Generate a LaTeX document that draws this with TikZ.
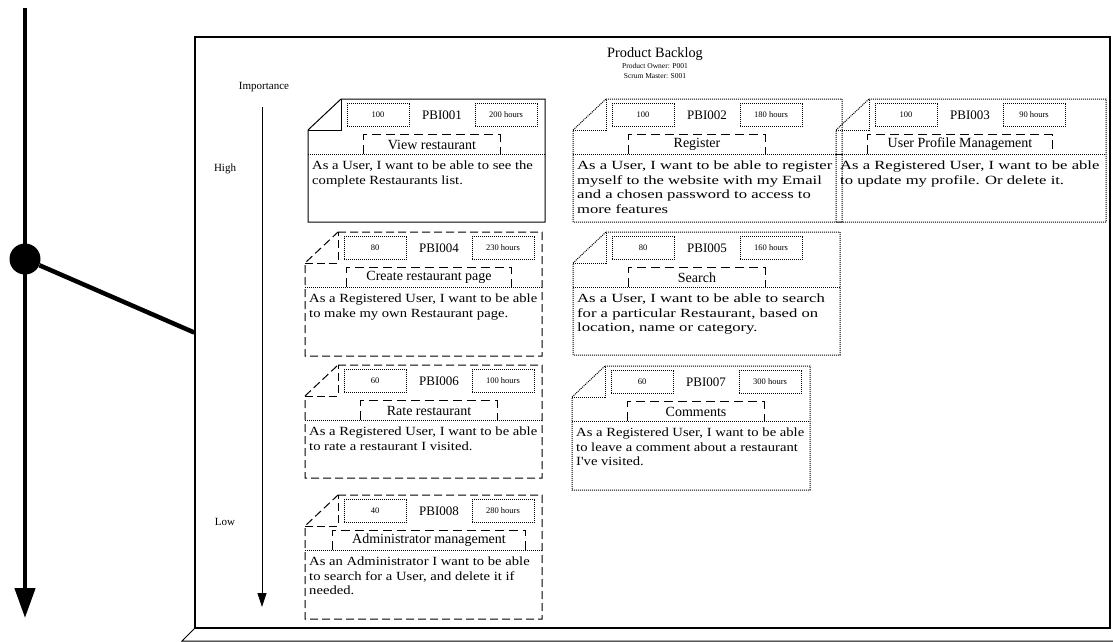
\documentclass[tikz,border=0pt]{standalone}
\usepackage{fontspec}
\setmainfont{Liberation Serif}
\newfontfamily\narrowbody[FakeStretch=1.17]{Liberation Serif}
\newfontfamily\widebody[FakeStretch=1.33]{Liberation Serif}
\usetikzlibrary{
  positioning,
  arrows.meta,
  calc
}

% one backlog item: id, left, top, right, bottom, outline, priority, hours, title
\newcommand{\backlogcard}[9]{%
  \draw[cardline, #6] ({#2+33},#3) -- (#4,#3) -- (#4,#5) -- (#2,#5)
    -- (#2,{#3+31}) -- cycle;
  \draw[cardline, #6] (#2,{#3+31}) -- ({#2+33},{#3+31}) -- ({#2+33},#3);
  \draw[cardline, dottedcard] (#2,{#3+55}) -- (#4,{#3+55});
  \node[numbox] (pbi#1-prio) at ({#2+70},{#3+16}) {#7};
  \node[idlabel] (pbi#1-id) at ({#2+134},{#3+16}) {PBI#1};
  \node[numbox] (pbi#1-hours) at ({#2+198},{#3+16}) {#8};
  \node[titlebox] (pbi#1-title) at ({#2+124},{#3+45.5}) {#9};
  \draw[titleline] (pbi#1-title.south west) -- (pbi#1-title.north west)
    -- (pbi#1-title.north east) -- (pbi#1-title.south east);
  \coordinate (pbi#1-body) at ({#2+4},{#3+62});
}

\begin{document}
\begin{tikzpicture}[
  x=1pt, y=-1pt,
  >=Stealth,
  cardline/.style={line width=1pt},
  solidcard/.style={},
  dottedcard/.style={dash pattern=on 1pt off 1pt},
  dashedcard/.style={dash pattern=on 8pt off 4pt},
  numbox/.style={
    draw, dottedcard, line width=1pt, minimum width=62pt,
    minimum height=23pt, inner sep=0pt, font=\fontsize{8.5}{10}\selectfont
  },
  idlabel/.style={inner sep=0pt, font=\fontsize{13}{15}\selectfont},
  titlebox/.style={
    minimum width=136pt, minimum height=19pt, inner xsep=20pt,
    inner ysep=0pt, font=\fontsize{14}{16}\selectfont
  },
  titleline/.style={line width=1pt, dash pattern=on 9pt off 5pt},
  cardtext/.style={
    anchor=north west, inner sep=0pt, align=left,
    font=\narrowbody\fontsize{12.5}{14.5}\selectfont
  },
  widetext/.style={cardtext, font=\widebody\fontsize{12.5}{14.5}\selectfont},
  sidelabel/.style={inner sep=0pt, font=\fontsize{11}{13}\selectfont},
  smallnote/.style={inner sep=0pt, font=\fontsize{7.5}{8}\selectfont}
]
\useasboundingbox (0,0) rectangle (1113,641);

% board
\node[draw, line width=1.6pt, minimum width=915pt, minimum height=591pt,
  inner sep=0pt] (frame) at (652.5,332.5) {};
\coordinate (baseleft) at (182,641);
\coordinate (baseright) at (1113,641);
\draw[line width=1pt] (frame.south west) -- (baseleft) -- (baseright);

% stand
\coordinate (stafftop) at (25,8);
\coordinate (staffend) at (25,618);
\draw[line width=4.5pt, -{Triangle[length=30pt, width=20pt]}]
  (stafftop) -- (staffend);
\node[circle, fill, inner sep=0pt, minimum size=31pt] (pin) at (25,259) {};
\draw[line width=4.5pt] (pin) -- (frame.west);

% header
\node[font=\fontsize{14.3}{16}\selectfont, inner sep=0pt] (backlog) at (655,54)
  {Product Backlog};
\node[smallnote] (owner) at (655,66) {Product Owner: P001};
\node[smallnote] (master) at (655,76) {Scrum Master: S001};

% importance scale
\node[sidelabel] (importance) at (264,87) {Importance};
\node[sidelabel] (high) at (225,169) {High};
\node[sidelabel] (low) at (225,522) {Low};
\coordinate (scaletop) at (262,107);
\coordinate (scaleend) at (262,607);
\draw[line width=0.8pt, -{Triangle[length=14pt, width=9pt]}]
  (scaletop) -- (scaleend);

% items
\backlogcard{001}{308}{99}{545}{222}{solidcard}{100}{200 hours}{View restaurant}
\node[cardtext] (pbi001-text) at (pbi001-body)
  {As a User, I want to be able to see the\\complete Restaurants list.};

\backlogcard{002}{573}{99}{842}{222}{dottedcard}{100}{180 hours}{Register}
\node[widetext] (pbi002-text) at (pbi002-body)
  {As a User, I want to be able to register\\myself to the website with my Email\\
   and a chosen password to access to\\more features};

\backlogcard{003}{836}{99}{1106}{222}{dottedcard}{100}{90 hours}{User Profile Management}
\node[widetext] (pbi003-text) at (pbi003-body)
  {As a Registered User, I want to be able\\to update my profile. Or delete it.};

\backlogcard{004}{305}{232}{542}{356}{dashedcard}{80}{230 hours}{Create restaurant page}
\node[cardtext] (pbi004-text) at (pbi004-body)
  {As a Registered User, I want to be able\\to make my own Restaurant page.};

\backlogcard{005}{573}{232}{840}{355}{dottedcard}{80}{160 hours}{Search}
\node[widetext] (pbi005-text) at (pbi005-body)
  {As a User, I want to be able to search\\for a particular Restaurant, based on\\
   location, name or category.};

\backlogcard{006}{305}{365}{542}{478}{dashedcard}{60}{100 hours}{Rate restaurant}
\node[cardtext] (pbi006-text) at (pbi006-body)
  {As a Registered User, I want to be able\\to rate a restaurant I visited.};

\backlogcard{007}{572}{366}{810}{490}{dottedcard}{60}{300 hours}{Comments}
\node[cardtext] (pbi007-text) at (pbi007-body)
  {As a Registered User, I want to be able\\to leave a comment about a restaurant\\
   I've visited.};

\backlogcard{008}{305}{495}{542}{619}{dashedcard}{40}{280 hours}{Administrator management}
\node[cardtext] (pbi008-text) at (pbi008-body)
  {As an Administrator I want to be able\\to search for a User, and delete it if\\
   needed.};

\end{tikzpicture}
\end{document}
